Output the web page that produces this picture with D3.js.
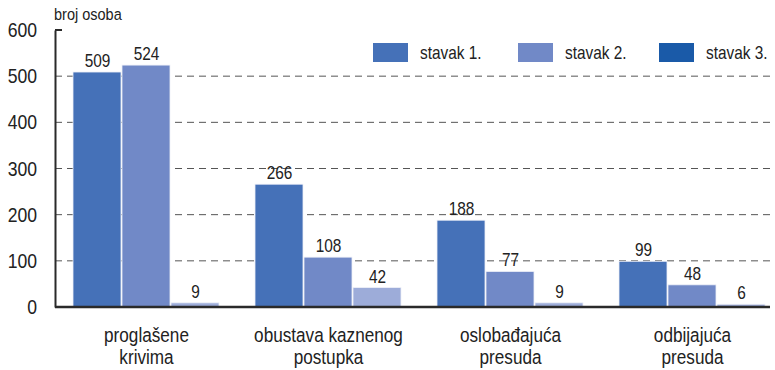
<!DOCTYPE html>
<html>
<head>
<meta charset="utf-8">
<script src="https://cdnjs.cloudflare.com/ajax/libs/d3/7.8.5/d3.min.js"></script>
<style>
  html, body { margin: 0; padding: 0; background: #fff; }
  svg { display: block; font-family: "Liberation Sans", Arial, sans-serif; }
</style>
</head>
<body>
<svg id="chart" width="775" height="370"></svg>
<script>
// Categories (two-line labels) and series values
const categories = [
  ["proglašene", "krivima"],
  ["obustava kaznenog", "postupka"],
  ["oslobađajuća", "presuda"],
  ["odbijajuća", "presuda"]
];
const seriesNames = ["stavak 1.", "stavak 2.", "stavak 3."];
const stavak1 = [509, 266, 188, 99];
const stavak2 = [524, 108, 77, 48];
const stavak3 = [9, 42, 9, 6];
const yTicks = [0, 100, 200, 300, 400, 500, 600];
const yTitle = "broj osoba";

const barColors = ["#4571b8", "#7189c7", "#9dacd9"];
const legendColors = ["#4571b8", "#7189c7", "#1a5aa8"];
const narrow = 0.88; // condensed look for all text

const svg = d3.select("#chart");
const plotLeft = 55, plotRight = 770, plotTop = 30, plotBottom = 307;

const y = d3.scaleLinear().domain([0, 600]).range([plotBottom, plotTop]);
const x0 = d3.scaleBand()
  .domain(d3.range(categories.length))
  .range([plotLeft, plotLeft + 182 * categories.length])
  .paddingInner(0).paddingOuter(0);
const x1 = d3.scaleBand()
  .domain(d3.range(seriesNames.length))
  .range([18, 165])
  .padding(0);

const series = [stavak1, stavak2, stavak3];

// places a horizontally condensed text element at (x, y)
function label(sel, x, yy, txt, size, anchor) {
  return sel.append("text")
    .attr("transform", `translate(${x},${yy}) scale(${narrow},1)`)
    .attr("text-anchor", anchor || "start")
    .attr("font-size", size)
    .attr("fill", "#222")
    .text(txt);
}

// dashed gridlines
svg.append("g")
  .selectAll("line")
  .data(yTicks.filter(t => t > 0 && t < 600))
  .join("line")
  .attr("x1", plotLeft).attr("x2", plotRight)
  .attr("y1", d => y(d)).attr("y2", d => y(d))
  .attr("stroke", "#555")
  .attr("stroke-width", 1)
  .attr("stroke-dasharray", "7,5");

// bars
const groups = svg.append("g")
  .selectAll("g")
  .data(categories.map((c, i) => i))
  .join("g")
  .attr("transform", i => `translate(${x0(i)},0)`);

groups.selectAll("rect")
  .data(i => series.map((s, k) => ({ k, v: s[i] })))
  .join("rect")
  .attr("x", d => x1(d.k))
  .attr("width", x1.bandwidth() - 1)
  .attr("y", d => y(d.v))
  .attr("height", d => y(0) - y(d.v))
  .attr("fill", d => barColors[d.k])
  .attr("stroke", "#eef0f8")
  .attr("stroke-width", 0.8);

// value labels above bars
groups.each(function (i) {
  const g = d3.select(this);
  series.forEach((s, k) => {
    label(g, x1(k) + x1.bandwidth() / 2, y(s[i]) - 5, s[i], 17.5, "middle");
  });
});

// y axis
const yAxis = d3.axisLeft(y).tickValues(yTicks).tickSize(0).tickFormat("");
const gy = svg.append("g").attr("transform", `translate(${plotLeft},0)`).call(yAxis);
gy.select(".domain").attr("stroke", "#2a2a2a").attr("stroke-width", 2);
yTicks.forEach(t => label(svg, 37, y(t) + 7, t, 20, "end"));

svg.append("line")
  .attr("x1", plotLeft).attr("x2", plotLeft + 7)
  .attr("y1", plotTop).attr("y2", plotTop)
  .attr("stroke", "#2a2a2a").attr("stroke-width", 2);

// x axis baseline
svg.append("line")
  .attr("x1", plotLeft).attr("x2", plotRight)
  .attr("y1", y(0)).attr("y2", y(0))
  .attr("stroke", "#2a2a2a").attr("stroke-width", 2.5);

// category labels
categories.forEach((c, i) => {
  const cx = x0(i) + 18 + (165 - 18) / 2;
  c.forEach((line, j) => label(svg, cx, 342 + j * 22, line, 19.5, "middle"));
});

// axis title
label(svg, 54, 20, yTitle, 16.5, "start");

// legend
const legendX = [373, 518, 659];
seriesNames.forEach((n, k) => {
  const g = svg.append("g").attr("transform", `translate(${legendX[k]},43)`);
  g.append("rect")
    .attr("width", 35).attr("height", 19)
    .attr("fill", legendColors[k]);
  label(g, 47, 16, n, 17.5, "start");
});
</script>
</body>
</html>
